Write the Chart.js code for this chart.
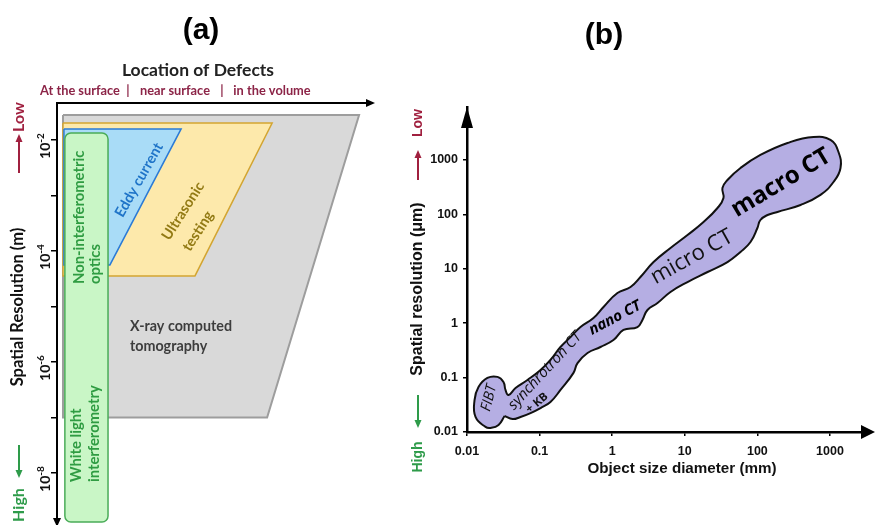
<!DOCTYPE html>
<html><head><meta charset="utf-8">
<script src="https://cdn.jsdelivr.net/npm/chart.js@4.4.1/dist/chart.umd.min.js"></script>
<style>
html,body{margin:0;padding:0;background:#fff;width:875px;height:525px;overflow:hidden}
canvas{position:absolute;left:0;top:0}
</style></head><body>
<canvas id="ca" width="875" height="525"></canvas>
<canvas id="cb" width="875" height="525"></canvas>
<script>
// ===== Panel (a): inspection methods vs spatial resolution (m) =====
const aYTicks = [1e-2, 1e-3, 1e-4, 1e-5, 1e-6, 1e-7, 1e-8];
const aYLabelVals = [1e-2, 1e-4, 1e-6, 1e-8];
const aYLabelExp = ['-2', '-4', '-6', '-8'];
const aLocations = ['At the surface', '|', 'near surface', '|', 'in the volume'];
// x: location of defects (0 = surface ... 100 = deep volume), y: resolution (m)
const xrayX = [1.9, 95.9, 66.7, 1.9, 1.9];
const xrayY = [0.0282, 0.0282, 1e-7, 1e-7, 0.0282];
const ultraX = [1.9, 68.3, 43.8, 1.9, 1.9];
const ultraY = [0.0202, 0.0202, 3.55e-5, 3.55e-5, 0.0202];
const eddyX = [2.2, 39.4, 16.8, 2.2, 2.2];
const eddyY = [0.0158, 0.0158, 5.6e-5, 5.6e-5, 0.0158];
const opticsX = [2.5, 16.2];
const opticsY = [0.0134, 1.31e-9];

// ===== Panel (b): CT techniques, object size (mm) vs resolution (um) =====
const bTicks = [0.01, 0.1, 1, 10, 100, 1000];
const bTickLabels = ['0.01', '0.1', '1', '10', '100', '1000'];
const blobX = [0.0329,0.0272,0.0211,0.018,0.0131,0.0127,0.0144,0.0191,0.0263,0.0318,0.0339,0.0373,0.0466,0.068,0.103,0.141,0.194,0.267,0.366,0.552,0.759,1.18,1.79,2.45,3.71,6.35,10.9,18.1,28.2,34.1,33.0,38.7,58.5,110,260,593,1016,1309,1396,1117,740,393,189,138,110,100,80.4,58.5,38.7,20.6,10.9,6.35,4.21,3.06,2.61,2.23,1.43,1.04,0.69,0.457,0.333,0.293,0.194,0.141,0.103,0.075,0.0546,0.0424,0.0329];
const blobY = [0.0197,0.0135,0.0119,0.0124,0.0189,0.0387,0.0671,0.0984,0.103,0.083,0.0592,0.0479,0.0644,0.0904,0.138,0.211,0.365,0.557,0.851,1.25,1.99,3.59,4.62,7.06,13.3,24.1,41.8,72.4,131,200,305,429,713,1236,2051,2648,2333,1403,713,394,228,149,111,97.5,78.9,56.2,31.1,20.4,13.3,8.73,5.71,3.75,2.35,1.75,1.15,0.851,0.75,0.491,0.365,0.283,0.185,0.122,0.0592,0.0356,0.0276,0.0223,0.0189,0.0173,0.0197];

const FA = "Lato, 'Open Sans', sans-serif";
const FB = "'Liberation Sans', Arial, sans-serif";
const FO = "'Open Sans', 'Noto Sans', sans-serif";

function pts(xs, ys) { return xs.map((x, i) => ({x: x, y: ys[i]})); }

function txt(ctx, s, x, y, font, color, ang, align, base) {
  ctx.save();
  ctx.translate(x, y);
  ctx.rotate((ang || 0) * Math.PI / 180);
  ctx.font = font; ctx.fillStyle = color;
  ctx.textAlign = align || 'center'; ctx.textBaseline = base || 'middle';
  ctx.fillText(s, 0, 0);
  ctx.restore();
}
function head(ctx, tx, ty, dir, len, half, color) {
  ctx.save(); ctx.fillStyle = color; ctx.beginPath();
  if (dir === 'up') { ctx.moveTo(tx, ty); ctx.lineTo(tx - half, ty + len); ctx.lineTo(tx + half, ty + len); }
  else if (dir === 'down') { ctx.moveTo(tx, ty); ctx.lineTo(tx - half, ty - len); ctx.lineTo(tx + half, ty - len); }
  else { ctx.moveTo(tx, ty); ctx.lineTo(tx - len, ty - half); ctx.lineTo(tx - len, ty + half); }
  ctx.closePath(); ctx.fill(); ctx.restore();
}
function vline(ctx, x, y0, y1, color, w) {
  ctx.save(); ctx.strokeStyle = color; ctx.lineWidth = w; ctx.beginPath();
  ctx.moveTo(x, y0); ctx.lineTo(x, y1); ctx.stroke(); ctx.restore();
}

// fills the closed outline of a line dataset using the library's own line path
const polyFill = {
  id: 'polyFill',
  beforeDatasetDraw(chart, args) {
    const ds = chart.data.datasets[args.index];
    if (!ds.areaColor) return;
    const meta = args.meta, ctx = chart.ctx;
    meta.dataset.updateControlPoints(chart.chartArea, meta.iScale.axis);
    ctx.save();
    ctx.beginPath();
    meta.dataset.path(ctx);
    ctx.closePath();
    ctx.fillStyle = ds.areaColor;
    ctx.fill();
    ctx.restore();
  }
};

const decoA = {
  id: 'decoA',
  afterDatasetsDraw(chart) {
    const ctx = chart.ctx, xs = chart.scales.x, ys = chart.scales.y;
    // optics box
    const x0 = xs.getPixelForValue(opticsX[0]), x1 = xs.getPixelForValue(opticsX[1]);
    const y0 = ys.getPixelForValue(opticsY[0]), y1 = ys.getPixelForValue(opticsY[1]);
    ctx.save();
    ctx.beginPath();
    if (ctx.roundRect) ctx.roundRect(x0, y0, x1 - x0, y1 - y0, 6); else ctx.rect(x0, y0, x1 - x0, y1 - y0);
    ctx.fillStyle = '#c9f6c6'; ctx.fill();
    ctx.strokeStyle = '#4aac58'; ctx.lineWidth = 1.5; ctx.stroke();
    ctx.restore();
    const g = '#2f9c42';
    const gf = 'bold 14.8px ' + FA;
    txt(ctx, 'Non-interferometric', 79, 284, gf, g, -90, 'left');
    txt(ctx, 'optics', 95, 284, gf, g, -90, 'left');
    txt(ctx, 'White light', 76, 482, gf, g, -90, 'left');
    txt(ctx, 'interferometry', 94, 482, gf, g, -90, 'left');
    txt(ctx, 'Eddy current', 139, 180, 'bold 14.5px ' + FA, '#1f74c8', -60.5);
    txt(ctx, 'Ultrasonic', 183, 211, 'bold 14.5px ' + FA, '#927a14', -57.5);
    txt(ctx, 'testing', 198, 231, 'bold 14.5px ' + FA, '#927a14', -57.5);
    txt(ctx, 'X-ray computed', 130, 326, 'bold 14.3px ' + FA, '#3d3d3d', 0, 'left');
    txt(ctx, 'tomography', 130, 346, 'bold 14.3px ' + FA, '#3d3d3d', 0, 'left');
  },
  afterDraw(chart) {
    const ctx = chart.ctx, ys = chart.scales.y, ca = chart.chartArea;
    txt(ctx, '(a)', 201, 31, "bold 30px 'Liberation Sans Narrow', 'Liberation Sans', Arial", '#000');
    txt(ctx, '(b)', 604, 36, "bold 30px 'Liberation Sans Narrow', 'Liberation Sans', Arial", '#000');
    txt(ctx, 'Location of Defects', 198, 70, 'bold 17.5px ' + FA, '#222');
    const locX = [80, 128, 175, 222, 272];
    aLocations.forEach((s, i) => txt(ctx, s, locX[i], 91, 'bold 12.8px ' + FA, '#8c2447'));
    // axis arrows
    head(ctx, ca.right + 3, ca.top, 'right', 9, 4, '#000');
    head(ctx, ca.left, 527, 'down', 9, 4, '#000');
    // y tick labels 10^n, rotated
    aYLabelVals.forEach((v, i) => {
      const py = ys.getPixelForValue(v);
      ctx.save();
      ctx.translate(45, py + 6);
      ctx.rotate(-Math.PI / 2);
      ctx.fillStyle = '#111'; ctx.textBaseline = 'alphabetic'; ctx.textAlign = 'left';
      ctx.font = 'bold 14px ' + FA; const w1 = ctx.measureText('10').width;
      ctx.font = 'bold 10px ' + FA; const w2 = ctx.measureText(aYLabelExp[i]).width;
      const sx = -(w1 + w2) / 2;
      ctx.font = 'bold 14px ' + FA; ctx.fillText('10', sx, 5);
      ctx.font = 'bold 10px ' + FA; ctx.fillText(aYLabelExp[i], sx + w1, -1.5);
      ctx.restore();
    });
    txt(ctx, 'Spatial Resolution (m)', 18, 307, 'bold 16.5px ' + FA, '#111', -90);
    // Low / High
    txt(ctx, 'Low', 19, 117, 'bold 16px ' + FA, '#a0203f', -90);
    vline(ctx, 19, 173, 140, '#a0203f', 2);
    head(ctx, 19, 134, 'up', 8, 3.5, '#a0203f');
    txt(ctx, 'High', 19, 505, 'bold 16px ' + FA, '#2e9b4a', -90);
    vline(ctx, 19, 445, 472, '#2e9b4a', 2);
    head(ctx, 19, 478, 'down', 8, 3.5, '#2e9b4a');
  }
};

new Chart(document.getElementById('ca'), {
  type: 'line',
  data: { datasets: [
    {label: 'Eddy current', data: pts(eddyX, eddyY), borderColor: '#2b7bd6', borderWidth: 1.5, areaColor: '#a9dcf7', pointRadius: 0, tension: 0, fill: false, order: 1},
    {label: 'Ultrasonic testing', data: pts(ultraX, ultraY), borderColor: '#d3a532', borderWidth: 1.5, areaColor: '#fde9ab', pointRadius: 0, tension: 0, fill: false, order: 2},
    {label: 'X-ray computed tomography', data: pts(xrayX, xrayY), borderColor: '#9d9d9d', borderWidth: 2, areaColor: '#d9d9d9', pointRadius: 0, tension: 0, fill: false, order: 3}
  ]},
  options: {
    responsive: false, animation: false, events: [],
    layout: {padding: {left: 0, top: 103, right: 503, bottom: 0}},
    plugins: {legend: {display: false}, tooltip: {enabled: false}},
    scales: {
      x: {type: 'linear', position: 'top', min: 0, max: 100, bounds: 'data',
          ticks: {display: false}, grid: {display: false},
          border: {display: true, color: '#000', width: 2},
          afterFit(s) { s.height = 0; }},
      y: {type: 'logarithmic', position: 'left', min: 1.156e-9, max: 0.0464, bounds: 'data',
          afterBuildTicks(s) { s.ticks = aYTicks.map(v => ({value: v})); },
          ticks: {display: false},
          grid: {drawOnChartArea: false, drawTicks: true, tickLength: 6, color: '#000', lineWidth: 1.5},
          border: {color: '#000', width: 2},
          afterFit(s) { s.width = 57; }}
    }
  },
  plugins: [polyFill, decoA]
});

const decoB = {
  id: 'decoB',
  afterDraw(chart) {
    const ctx = chart.ctx, ca = chart.chartArea;
    head(ctx, ca.left, ca.top, 'up', 21, 6, '#000');
    head(ctx, 875, ca.bottom, 'right', 14, 7, '#000');
    txt(ctx, 'Object size diameter (mm)', 682, 469, 'bold 15.2px ' + FB, '#111');
    txt(ctx, 'Spatial resolution (\u03bcm)', 418, 289, 'bold 16px ' + FB, '#111', -90);
    txt(ctx, 'Low', 418, 123, 'bold 14px ' + FB, '#a0203f', -90);
    vline(ctx, 418, 180, 156, '#a0203f', 2);
    head(ctx, 418, 150, 'up', 8, 3.5, '#a0203f');
    txt(ctx, 'High', 418, 457, 'bold 14px ' + FB, '#2e9b4a', -90);
    vline(ctx, 418, 395, 421, '#2e9b4a', 2);
    head(ctx, 418, 428, 'down', 8, 3.5, '#2e9b4a');
    const d = '#111';
    txt(ctx, 'FIBT', 489, 398, 'italic 14.5px ' + FO, d, -76);
    txt(ctx, 'synchrotron CT', 545, 371, 'italic 15px ' + FO, d, -47);
    txt(ctx, '+ KB', 537, 403, 'bold 11.5px ' + FO, d, -40);
    txt(ctx, 'nano CT', 615, 318, 'italic bold 15px ' + FO, '#000', -28);
    txt(ctx, 'micro CT', 692, 257, '22px ' + FO, d, -29);
    txt(ctx, 'macro CT', 781, 183, 'bold 24px ' + FO, '#000', -31);
  }
};

new Chart(document.getElementById('cb'), {
  type: 'line',
  data: { datasets: [
    {label: 'CT techniques', data: pts(blobX, blobY), borderColor: '#111', borderWidth: 2, areaColor: '#b5aee3', pointRadius: 0, tension: 0.45, fill: false}
  ]},
  options: {
    responsive: false, animation: false, events: [],
    layout: {padding: {left: 410, top: 107, right: 13, bottom: 53}},
    plugins: {legend: {display: false}, tooltip: {enabled: false}},
    scales: {
      x: {type: 'logarithmic', position: 'bottom', min: 0.01, max: 2760, bounds: 'data',
          afterBuildTicks(s) { s.ticks = bTicks.map(v => ({value: v})); },
          ticks: {autoSkip: false, maxRotation: 0, padding: 8, color: '#111', font: {family: FB, size: 12.5, weight: 'bold'},
                  callback: (v, i) => bTickLabels[i]},
          grid: {drawOnChartArea: false, drawTicks: true, tickLength: 4, color: '#000', lineWidth: 1.5},
          border: {color: '#000', width: 2.5},
          afterFit(s) { s.height = 40; }},
      y: {type: 'logarithmic', position: 'left', min: 0.01, max: 9420, bounds: 'data',
          afterBuildTicks(s) { s.ticks = bTicks.map(v => ({value: v})); },
          ticks: {autoSkip: false, padding: 5, color: '#111', font: {family: FB, size: 12.5, weight: 'bold'},
                  callback: (v, i) => bTickLabels[i]},
          grid: {drawOnChartArea: false, drawTicks: true, tickLength: 4, color: '#000', lineWidth: 1.5},
          border: {color: '#000', width: 2.5},
          afterFit(s) { s.width = 57; }}
    }
  },
  plugins: [polyFill, decoB]
});
</script>
</body></html>
